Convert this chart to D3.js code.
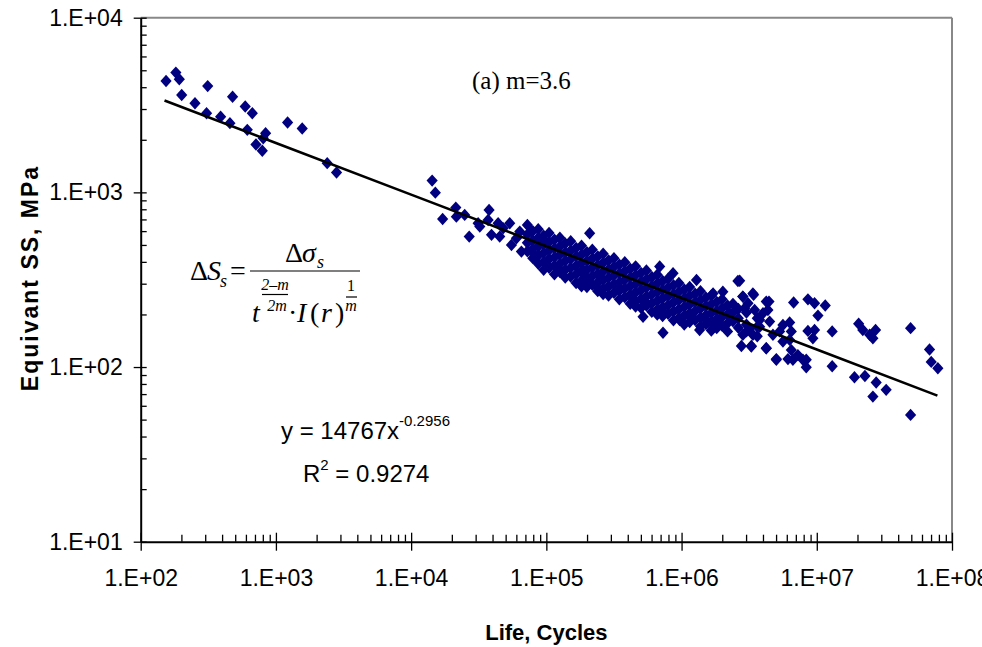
<!DOCTYPE html>
<html>
<head>
<meta charset="utf-8">
<script src="https://cdn.jsdelivr.net/npm/d3@7"></script>
<style>
  body { margin: 0; background: #fff; }
  svg text { font-family: "Liberation Sans", Arial, sans-serif; }
</style>
</head>
<body>
<div id="chart"></div>
<script>
// Scattered points: [life (cycles), equivalent stress (MPa)]
const lowCyclePoints = [
    [154, 4340], [182, 4850], [193, 4440], [201, 3610], [252, 3240], [313, 4060],
    [307, 2840], [390, 2710], [457, 2490], [478, 3530], [593, 3100], [669, 2840],
    [614, 2280], [712, 1880], [793, 1730], [806, 2040], [839, 2180], [1220, 2510],
    [1565, 2320], [2395, 1470], [2808, 1300]
];

const midCyclePoints = [
    [14300, 1168], [15100, 996], [17100, 704], [21400, 818], [21600, 726], [24900, 743],
    [26900, 558], [31300, 665], [32200, 637], [37700, 793], [39300, 571], [44000, 665],
    [53600, 665], [45200, 558], [55200, 500], [65400, 458], [63600, 596], [77600, 596],
    [79800, 448], [94600, 534], [100000, 393], [209000, 583], [187000, 344], [234000, 289],
    [126000, 360], [37100, 695], [47900, 623], [60100, 546]
];

const highCyclePoints = [
    [729000, 157], [519000, 194], [2610000, 311], [2770000, 132], [3280000, 132],
    [4230000, 128], [5020000, 110], [4230000, 237], [3370000, 264], [2840000, 253],
    [4350000, 212], [3100000, 232], [3780000, 186], [2270000, 203], [1910000, 178],
    [1520000, 186], [1710000, 167], [1360000, 163], [1150000, 194], [968000, 186],
    [709000, 212], [549000, 232], [438000, 242], [349000, 282], [248000, 329],
    [198000, 315], [187000, 360], [865000, 344], [689000, 376], [1290000, 315],
    [2020000, 270], [1710000, 264]
];

const tailPoints = [
    [2930000, 217], [3470000, 212], [4000000, 203], [4480000, 182], [3780000, 170],
    [3190000, 167], [2840000, 153], [3370000, 153], [4740000, 153], [5310000, 160],
    [6300000, 143], [5620000, 140], [6480000, 125], [7250000, 117], [7900000, 110],
    [6660000, 110], [3280000, 131], [4230000, 128], [5020000, 111], [6120000, 111],
    [2690000, 312], [3410000, 259], [2840000, 253], [4430000, 237], [6740000, 234],
    [8600000, 244], [9630000, 232], [11550000, 225], [10200000, 197], [6300000, 180],
    [5620000, 174], [6480000, 160], [8360000, 110], [8360000, 99.7], [8600000, 161],
    [9630000, 163], [9360000, 146], [13000000, 160], [13000000, 101], [20400000, 177],
    [21900000, 163], [24600000, 153], [26000000, 146], [27200000, 163], [19000000, 87.4],
    [22700000, 88.9], [27500000, 81.5], [32600000, 74.0], [26000000, 67.7], [49400000, 167],
    [49400000, 53.2], [68200000, 126], [70200000, 107], [78600000, 98.4]
];

// Dense band of points: life of each column and the stresses stacked in it
const bandLife = [
    72400, 79400, 87100, 95500, 104700, 114800, 125900, 138000, 151400, 166000,
    182000, 199500, 218800, 239900, 263000, 288400, 316200, 346700, 380200, 416900,
    457100, 501200, 549500, 602600, 660700, 724400, 794300, 871000, 955000, 1047000,
    1148000, 1259000, 1380000, 1514000, 1660000, 1820000, 1995000, 2188000, 2399000,
    2630000, 3020000, 3630000
];
const bandStress = [
    [650, 575, 515, 460], [600, 530, 475, 420], [615, 550, 490, 435, 390],
    [565, 505, 450, 400, 360], [585, 520, 465, 415, 370], [535, 478, 425, 380, 340],
    [550, 490, 440, 390, 350], [510, 452, 405, 360, 325], [525, 465, 415, 370, 330],
    [480, 430, 380, 340, 303], [495, 440, 395, 350, 312, 290], [455, 405, 360, 322, 287],
    [470, 418, 372, 332, 296], [430, 384, 342, 305, 272], [445, 395, 352, 314, 280, 262],
    [408, 363, 324, 289, 257], [420, 375, 334, 298, 266], [386, 344, 306, 273, 244],
    [398, 355, 316, 282, 251], [365, 326, 290, 259, 230], [377, 336, 299, 267, 238, 222],
    [346, 309, 275, 245, 218], [357, 318, 284, 253, 225], [328, 292, 260, 232, 207],
    [338, 301, 268, 239, 213, 200], [311, 277, 247, 220, 196], [320, 285, 254, 226, 202],
    [294, 262, 234, 208, 185], [303, 270, 241, 214, 191], [278, 248, 221, 197, 175],
    [287, 256, 228, 203, 181], [263, 235, 209, 186], [272, 242, 216, 192, 171],
    [250, 223, 198, 176], [257, 229, 204, 182, 162], [236, 210, 188, 167],
    [244, 217, 194, 172], [225, 200, 178, 160], [230, 205, 183], [215, 190, 168],
    [205, 175, 160], [190, 170, 150]
];

// Power-law trend line y = a * x^b
const trendA = 14767;
const trendB = -0.2956;
const trendLife = [150, 1e3, 1e4, 1e5, 1e6, 1e7, 7.8e7];

const xMajor = [1e2, 1e3, 1e4, 1e5, 1e6, 1e7, 1e8];
const yMajor = [1e1, 1e2, 1e3, 1e4];

const svgWidth = 982;
const svgHeight = 647;
const plot = { left: 140.7, right: 952, top: 17.7, bottom: 541.7 };

const svg = d3.select("#chart")
    .append("svg")
    .attr("width", svgWidth)
    .attr("height", svgHeight)
    .style("background", "#fff");

const x = d3.scaleLog().domain([1e2, 1e8]).range([plot.left, plot.right]);
const y = d3.scaleLog().domain([1e1, 1e4]).range([plot.bottom, plot.top]);

function minorTicks(majors) {
    const out = [];
    for (let i = 0; i < majors.length - 1; i++) {
        for (let k = 2; k <= 9; k++) out.push(majors[i] * k);
    }
    return out;
}
const fmt = (d) => "1.E+" + String(Math.round(Math.log10(d))).padStart(2, "0");

// top and right border
svg.append("line")
    .attr("x1", plot.left).attr("x2", plot.right)
    .attr("y1", plot.top).attr("y2", plot.top)
    .attr("stroke", "#888").attr("stroke-width", 2);
svg.append("line")
    .attr("x1", plot.right).attr("x2", plot.right)
    .attr("y1", plot.top).attr("y2", plot.bottom)
    .attr("stroke", "#888").attr("stroke-width", 2);

// points
const allPoints = [...lowCyclePoints, ...midCyclePoints, ...highCyclePoints, ...tailPoints];
bandLife.forEach((n, i) => bandStress[i].forEach((s) => allPoints.push([n, s])));

const diamond = "M0,-6.2L5.6,0L0,6.2L-5.6,0Z";
svg.append("g")
    .selectAll("path")
    .data(allPoints)
    .join("path")
    .attr("d", diamond)
    .attr("transform", (d) => `translate(${x(d[0])},${y(d[1])})`)
    .attr("fill", "#000080");

// trend line
const line = d3.line()
    .x((d) => x(d))
    .y((d) => y(trendA * Math.pow(d, trendB)));
svg.append("path")
    .datum(trendLife)
    .attr("d", line)
    .attr("fill", "none")
    .attr("stroke", "#000")
    .attr("stroke-width", 2.6);

// x axis: minor ticks inside, major ticks crossing
svg.append("g")
    .attr("transform", `translate(0,${plot.bottom})`)
    .call(d3.axisTop(x).tickValues(minorTicks(xMajor)).tickSize(7).tickFormat(""))
    .call((g) => g.select(".domain").remove())
    .selectAll("line").attr("stroke", "#000").attr("stroke-width", 1.3);

const xAxis = svg.append("g")
    .attr("transform", `translate(0,${plot.bottom})`)
    .call(d3.axisBottom(x).tickValues(xMajor).tickFormat(fmt).tickSize(9).tickSizeOuter(0).tickPadding(19));
xAxis.selectAll(".tick line").attr("y1", -9).attr("stroke-width", 1.3);
xAxis.select(".domain").attr("stroke-width", 2);
xAxis.selectAll("text")
    .attr("font-size", 23)
    .attr("font-family", "Liberation Sans, Arial, sans-serif")
    .attr("fill", "#000");

// y axis
svg.append("g")
    .attr("transform", `translate(${plot.left},0)`)
    .call(d3.axisRight(y).tickValues(minorTicks(yMajor)).tickSize(6).tickFormat(""))
    .call((g) => g.select(".domain").remove())
    .selectAll("line").attr("stroke", "#000").attr("stroke-width", 1.3);

const yAxis = svg.append("g")
    .attr("transform", `translate(${plot.left},0)`)
    .call(d3.axisLeft(y).tickValues(yMajor).tickFormat(fmt).tickSize(7).tickSizeOuter(0).tickPadding(11));
yAxis.selectAll(".tick line").attr("x1", 6).attr("stroke-width", 1.3);
yAxis.select(".domain").attr("stroke-width", 2);
yAxis.selectAll("text")
    .attr("font-size", 23)
    .attr("font-family", "Liberation Sans, Arial, sans-serif")
    .attr("fill", "#000");

// axis titles
svg.append("text")
    .attr("x", (plot.left + plot.right) / 2)
    .attr("y", 640)
    .attr("text-anchor", "middle")
    .attr("font-size", 22)
    .attr("font-weight", "bold")
    .text("Life, Cycles");

svg.append("text")
    .attr("transform", "translate(38,278) rotate(-90)")
    .attr("text-anchor", "middle")
    .attr("font-size", 23)
    .attr("font-weight", "bold")
    .attr("letter-spacing", 2)
    .text("Equivant SS, MPa");

// panel label
const serif = "'Liberation Serif', 'Times New Roman', serif";
svg.append("text")
    .attr("x", 472)
    .attr("y", 89)
    .style("font-family", serif)
    .attr("font-size", 25)
    .text("(a) m=3.6");

// formula
const eq = svg.append("g");
function eqText(str, px, py, size, italic, anchor) {
    eq.append("text")
        .attr("x", px).attr("y", py)
        .attr("font-size", size)
        .attr("font-style", italic ? "italic" : "normal")
        .attr("text-anchor", anchor || "start")
        .style("font-family", serif)
        .text(str);
}
function eqBar(x1, x2, py) {
    eq.append("line")
        .attr("x1", x1).attr("x2", x2).attr("y1", py).attr("y2", py)
        .attr("stroke", "#000").attr("stroke-width", 1.2);
}
eqText("\u0394", 190, 280, 28, false);
eqText("S", 207, 280, 28, true);
eqText("s", 220, 287, 18, true);
eqText("=", 230, 280, 28, false);
eqBar(250, 360, 271);
eqText("\u0394", 285, 262, 28, false);
eqText("\u03C3", 302, 262, 28, true);
eqText("s", 317, 268, 18, true);
eqText("t", 252, 322, 28, true);
eqText("2\u2013m", 275, 290, 16, true, "middle");
eqBar(262, 288, 294.5);
eqText("2m", 277, 311, 16, true, "middle");
eqText("\u00B7", 288, 322, 28, false);
eqText("I", 297, 322, 28, true);
eqText("(", 310, 322, 28, false);
eqText("r", 321, 322, 28, true);
eqText(")", 335, 322, 28, false);
eqText("1", 351, 291, 16, false, "middle");
eqBar(346, 357, 297);
eqText("m", 351, 311, 16, true, "middle");

// regression text
const reg1 = svg.append("text").attr("x", 281).attr("y", 439).attr("font-size", 24);
reg1.append("tspan").text("y = 14767x");
reg1.append("tspan").attr("font-size", 15).attr("dy", -13).text("-0.2956");

const reg2 = svg.append("text").attr("x", 303).attr("y", 482).attr("font-size", 24);
reg2.append("tspan").text("R");
reg2.append("tspan").attr("font-size", 15).attr("dy", -12).text("2");
reg2.append("tspan").attr("dy", 12).text(" = 0.9274");
</script>
</body>
</html>
